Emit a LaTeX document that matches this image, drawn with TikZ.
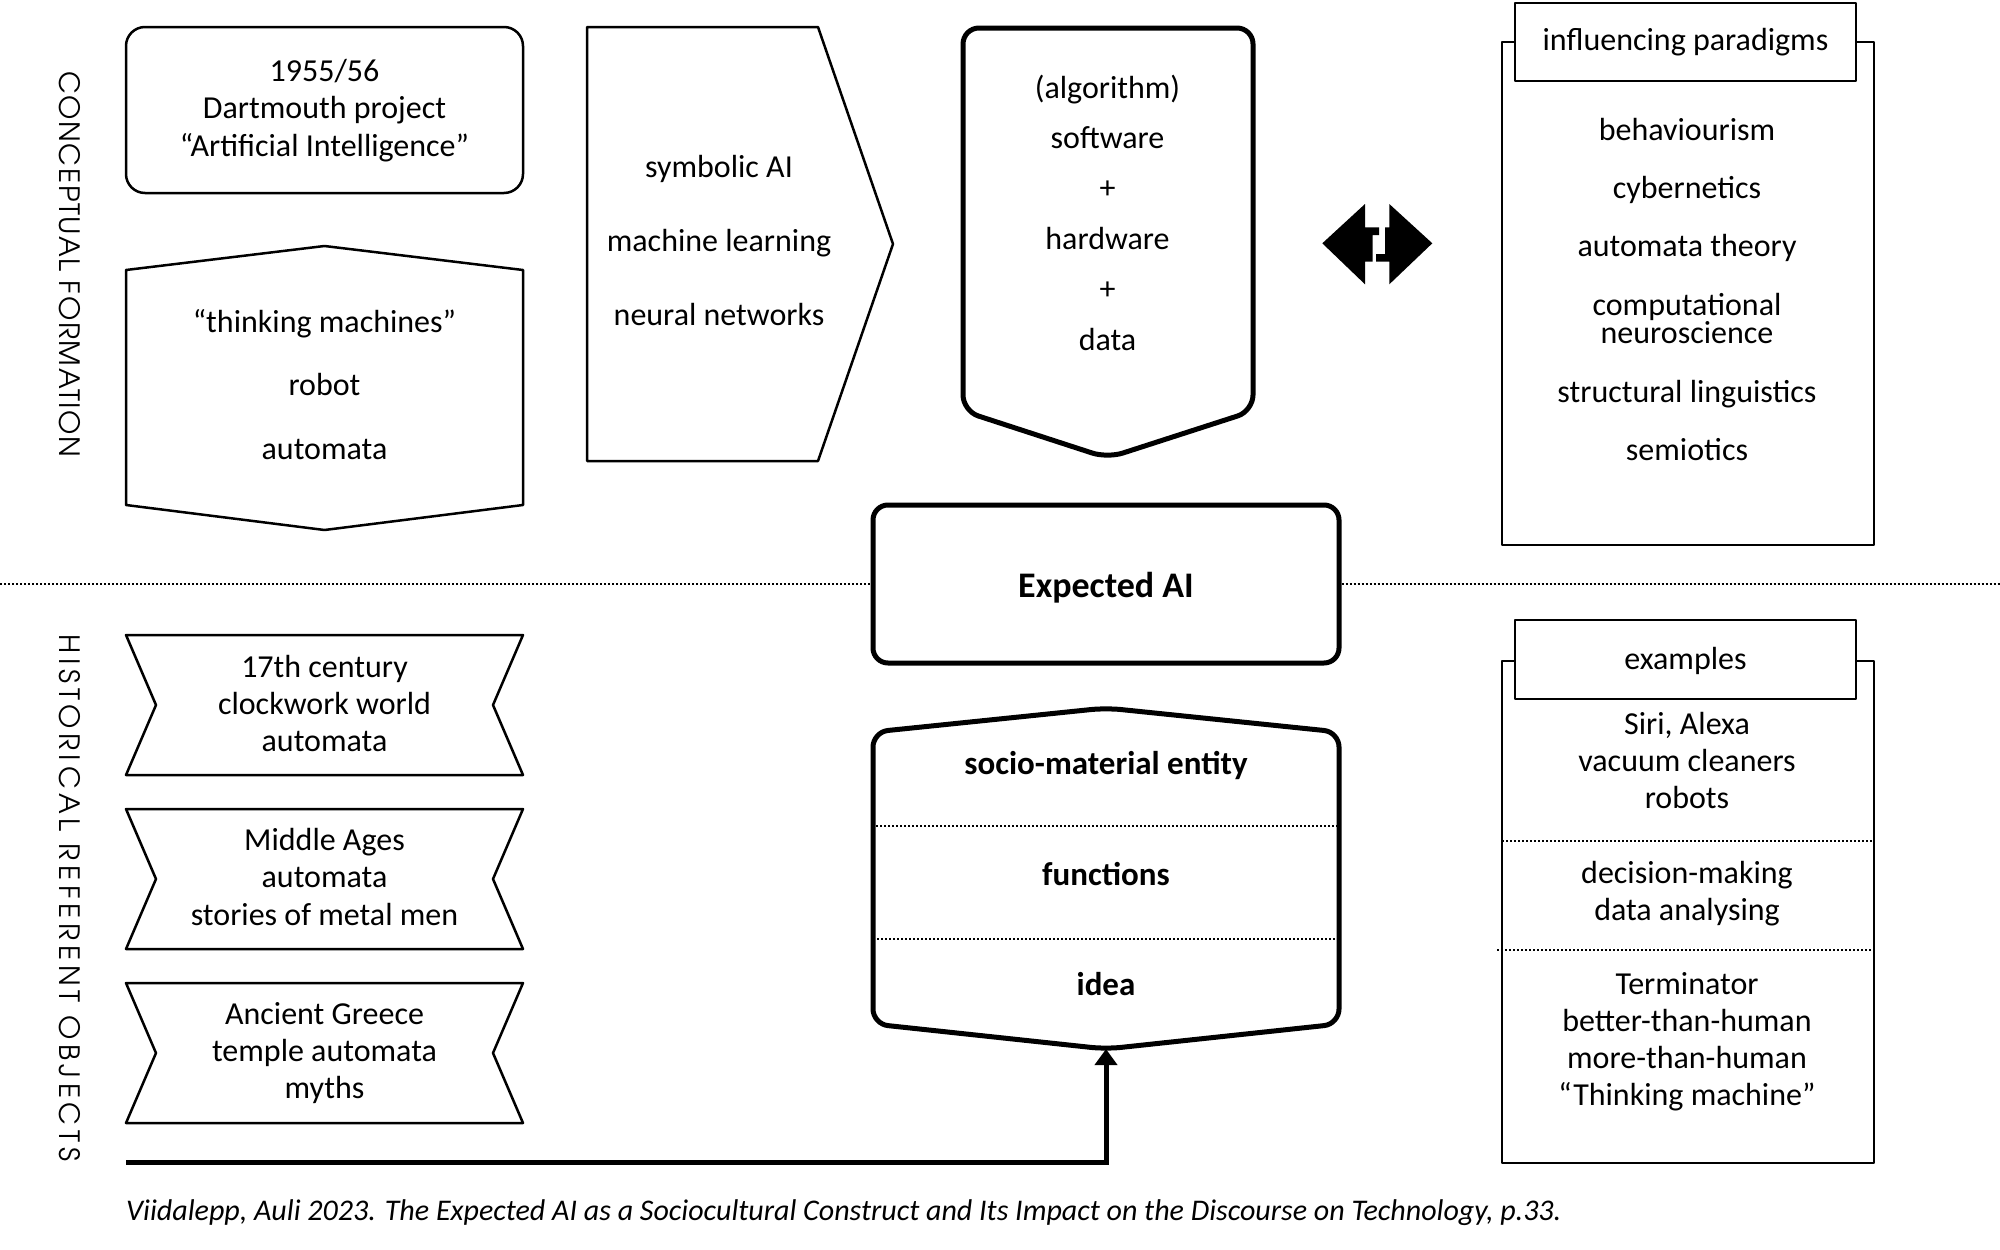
\documentclass[tikz,border=0pt]{standalone}
\usepackage{fontspec}
\setmainfont{Carlito}
\newfontfamily\labfontA{texgyreadventor-regular.otf}[LetterSpace=6]
\newfontfamily\labfontB{texgyreadventor-regular.otf}[LetterSpace=17]
\usetikzlibrary{arrows.meta}
\newcommand\mystack[6]{%
  \foreach \t [count=\i from 0] in {#6} {
    \node[#1, anchor=base] (#2-\i) at (#3, {#4 + \i*#5 + 10}) {\t};
  }}
\begin{document}
\begin{tikzpicture}[x=1pt,y=-1pt,
  thinln/.style={line width=2.5pt, line join=round},
  thickln/.style={line width=5pt, line join=round},
  txt/.style={font=\fontsize{32}{37}\selectfont, inner sep=0pt},
  btxt/.style={font=\fontsize{33}{38}\selectfont\bfseries, inner sep=0pt},
  dotln/.style={line width=2pt, dash pattern=on 2pt off 2pt},
  sidelab/.style={rotate=-90, inner sep=0pt},
  icon/.style={fill=black, draw=none}
]
\fill[white] (0,0) rectangle (2000,1250);
\useasboundingbox (0,0) rectangle (2000,1250);

% side labels
\node[sidelab, font=\labfontA\fontsize{28}{32}\selectfont] (lab1) at (70,264.5) {CONCEPTUAL FORMATION};
\node[sidelab, font=\labfontB\fontsize{28}{32}\selectfont] (lab2) at (70,898) {HISTORICAL REFERENT OBJECTS};

% main dotted separator and Expected AI
\node[draw, thickln, rounded corners=15pt, minimum width=466pt, minimum height=158pt, inner sep=0pt] (exp) at (1106,584) {};
\node[font=\fontsize{36}{40}\selectfont\bfseries, inner sep=0pt, anchor=base] (exptxt) at (1106,597) {Expected AI};
\coordinate (dl) at (0,584);
\coordinate (dr) at (2000,584);
\draw[dotln] (dl) -- (exp.west);
\draw[dotln] (exp.east) -- (dr);

% Dartmouth box
\draw[thinln, rounded corners=19pt] (126,27) rectangle (523,193);
\mystack{txt}{dart}{324.5}{71}{37.5}{1955/56,Dartmouth project,“Artificial Intelligence”}

% hexagon
\draw[thinln] (126,270) -- (324.5,246) -- (523,270) -- (523,505) -- (324.5,530) -- (126,505) -- cycle;
\mystack{txt}{hex}{324.5}{322}{63.5}{“thinking machines”,robot,automata}

% pentagon arrow
\draw[thinln] (587,27) -- (818,27) -- (893,244) -- (818,461) -- (587,461) -- cycle;
\mystack{txt}{pent}{719}{167}{74}{symbolic AI,machine learning,neural networks}

% software box
\draw[thickln, rounded corners=16pt] (963,28) -- (1253,28) -- (1253,411) -- (1107.5,458) -- (963,411) -- cycle;
\mystack{txt}{soft}{1107.5}{88}{50.4}{(algorithm),software,+,hardware,+,data}

% double arrow icon
\fill[icon] (1365,204) -- (1365,227.3) -- (1379,227.3) -- (1379,235) -- (1372.7,235) -- (1372.7,261.7) -- (1365,261.7) -- (1365,284.3) -- (1322.3,243.3) -- cycle;
\fill[icon] (1389.3,204) -- (1432.3,243.3) -- (1389.3,284.3) -- (1389.3,261.7) -- (1376,261.7) -- (1376,254) -- (1385,254) -- (1385,227.3) -- (1389.3,227.3) -- cycle;

% influencing paradigms
\draw[thinln] (1502,42) rectangle (1874,545);
\draw[thinln, fill=white] (1515,3) rectangle (1856,81);
\node[txt, anchor=base] (infh) at (1685.5,50) {influencing paradigms};
\mystack{txt}{par}{1687}{130}{58}{behaviourism,cybernetics,automata theory}
\mystack{txt}{cn}{1687}{305}{28}{computational,neuroscience}
\mystack{txt}{sl}{1687}{392}{58}{structural linguistics,semiotics}

% ribbons
\draw[thinln] (126,635) -- (523,635) -- (493,705) -- (523,775) -- (126,775) -- (156,705) -- cycle;
\mystack{txt}{rib1}{324.5}{667}{37}{17th century,clockwork world,automata}
\draw[thinln] (126,809) -- (523,809) -- (493,879) -- (523,949) -- (126,949) -- (156,879) -- cycle;
\mystack{txt}{rib2}{324.5}{840}{37.5}{Middle Ages,automata,stories of metal men}
\draw[thinln] (126,983) -- (523,983) -- (493,1053) -- (523,1123) -- (126,1123) -- (156,1053) -- cycle;
\mystack{txt}{rib3}{324.5}{1014}{37}{Ancient Greece,temple automata,myths}

% socio-material entity box
\draw[thickln, rounded corners=15pt] (873,732) -- (1106,708) -- (1339,732) -- (1339,1024) -- (1106,1049) -- (873,1024) -- cycle;
\draw[dotln] (876,826) -- (1337,826);
\draw[dotln] (873,939) -- (1335,939);
\mystack{btxt}{soc}{1106}{764.5}{110.7}{socio-material entity,functions,idea}
\coordinate (socbot) at (1106,1049);

% examples
\draw[thinln] (1502,661) rectangle (1874,1163);
\draw[thinln, fill=white] (1515,620) rectangle (1856,699);
\node[txt, anchor=base] (exh) at (1685.5,669) {examples};
\mystack{txt}{ex1}{1687}{724.7}{37}{{Siri, Alexa},vacuum cleaners,robots}
\draw[dotln] (1502,840.5) -- (1874,840.5);
\mystack{txt}{ex2}{1687}{873}{37}{decision-making,data analysing}
\draw[dotln] (1497,950) -- (1874,950);
\mystack{txt}{ex3}{1687}{984}{37}{Terminator,better-than-human,more-than-human,“Thinking machine”}

% bottom arrow
\coordinate (hs) at (126,1162);
\draw[line width=5pt, -{Triangle[width=22pt,length=16pt]}] (hs) -| (socbot);

% caption
\node[font=\fontsize{30}{34}\selectfont\itshape, inner sep=0pt, anchor=base west] (cap) at (126,1220) {Viidalepp, Auli 2023. The Expected AI as a Sociocultural Construct and Its Impact on the Discourse on Technology, p.33.};
\end{tikzpicture}
\end{document}
